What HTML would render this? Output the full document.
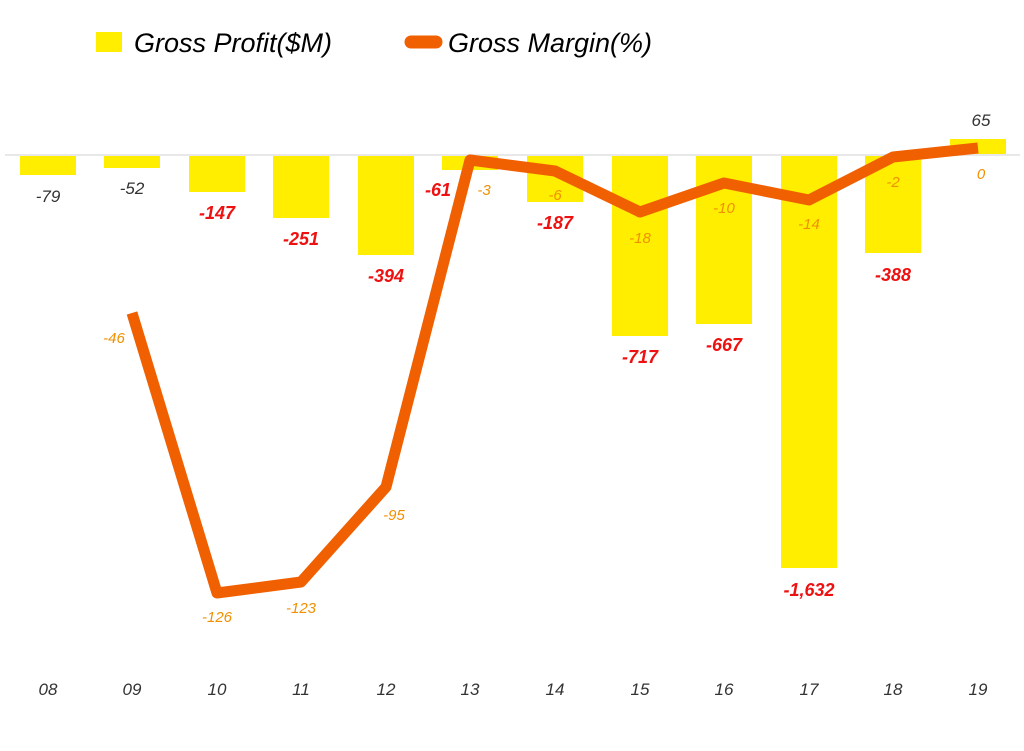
<!DOCTYPE html>
<html><head><style>
body{margin:0;background:#fff;}
svg text{font-family:"Liberation Sans",sans-serif;font-style:italic;}
</style></head><body>
<svg width="1024" height="746" viewBox="0 0 1024 746" xmlns="http://www.w3.org/2000/svg">
<rect x="96" y="32" width="26" height="20" fill="#ffee00"/>
<text x="134" y="52" font-size="27" fill="#000">Gross Profit($M)</text>
<line x1="411" y1="42" x2="436" y2="42" stroke="#f06000" stroke-width="13" stroke-linecap="round"/>
<text x="448" y="52" font-size="27" fill="#000">Gross Margin(%)</text>
<line x1="5" y1="155" x2="1020" y2="155" stroke="#e8e8e8" stroke-width="2"/>
<g fill="#ffee00">
<rect x="20" y="156" width="56" height="19"/>
<rect x="104" y="156" width="56" height="12"/>
<rect x="189" y="156" width="56" height="36"/>
<rect x="273" y="156" width="56" height="62"/>
<rect x="358" y="156" width="56" height="99"/>
<rect x="442" y="156" width="56" height="14"/>
<rect x="527" y="156" width="56" height="46"/>
<rect x="612" y="156" width="56" height="180"/>
<rect x="696" y="156" width="56" height="168"/>
<rect x="781" y="156" width="56" height="412"/>
<rect x="865" y="156" width="56" height="97"/>
<rect x="950" y="139" width="56" height="15"/>
</g>
<polyline points="132,313 217,593 301,582 386,487 470,160 555,171 640,212 724,183 809,200 893,157 978,148" fill="none" stroke="#f06000" stroke-width="11" stroke-linejoin="round"/>
<g font-size="17" text-anchor="middle" fill="#333">
<text x="48" y="202">-79</text>
<text x="132" y="194">-52</text>
<text x="981" y="126">65</text>
</g>
<g font-size="18" font-weight="bold" text-anchor="middle" fill="#ee1111">
<text x="217" y="219">-147</text>
<text x="301" y="245">-251</text>
<text x="386" y="282">-394</text>
<text x="438" y="196">-61</text>
<text x="555" y="229">-187</text>
<text x="640" y="363">-717</text>
<text x="724" y="351">-667</text>
<text x="809" y="596">-1,632</text>
<text x="893" y="281">-388</text>
</g>
<g font-size="15" text-anchor="middle" fill="#f09000">
<text x="114" y="343">-46</text>
<text x="217" y="622">-126</text>
<text x="301" y="613">-123</text>
<text x="394" y="520">-95</text>
<text x="484" y="195">-3</text>
<text x="555" y="200">-6</text>
<text x="640" y="243">-18</text>
<text x="724" y="213">-10</text>
<text x="809" y="229">-14</text>
<text x="893" y="187">-2</text>
<text x="981" y="179">0</text>
</g>
<g font-size="17" text-anchor="middle" fill="#333">
<text x="48" y="695">08</text><text x="132" y="695">09</text><text x="217" y="695">10</text>
<text x="301" y="695">11</text><text x="386" y="695">12</text><text x="470" y="695">13</text>
<text x="555" y="695">14</text><text x="640" y="695">15</text><text x="724" y="695">16</text>
<text x="809" y="695">17</text><text x="893" y="695">18</text><text x="978" y="695">19</text>
</g>
</svg>
</body></html>
